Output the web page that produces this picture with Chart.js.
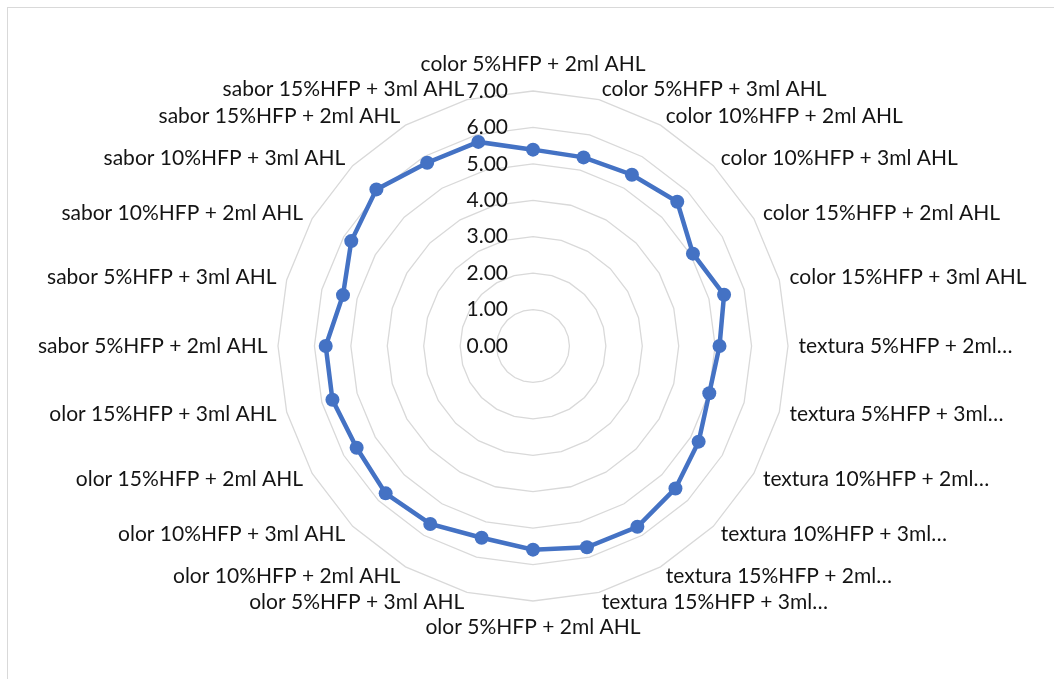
<!DOCTYPE html>
<html><head><meta charset="utf-8">
<script src="https://cdn.jsdelivr.net/npm/chart.js@4.4.0/dist/chart.umd.min.js"></script>
<style>
html,body{margin:0;padding:0;background:#fff;}
#wrap{position:relative;width:1054px;height:679px;overflow:hidden;}
#frame{position:absolute;left:7px;top:7px;width:1100px;height:720px;border:1px solid #d9d9d9;box-sizing:border-box;}
canvas{position:absolute;left:0;top:0;}
</style></head><body>
<div id="wrap"><div id="frame"></div><canvas id="c" width="1054" height="679"></canvas></div>
<script>
const categories = [
  'color 5%HFP + 2ml AHL', 'color 5%HFP + 3ml AHL', 'color 10%HFP + 2ml AHL', 'color 10%HFP + 3ml AHL',
  'color 15%HFP + 2ml AHL', 'color 15%HFP + 3ml AHL', 'textura 5%HFP + 2ml…', 'textura 5%HFP + 3ml…',
  'textura 10%HFP + 2ml…', 'textura 10%HFP + 3ml…', 'textura 15%HFP + 2ml…', 'textura 15%HFP + 3ml…',
  'olor 5%HFP + 2ml AHL', 'olor 5%HFP + 3ml AHL', 'olor 10%HFP + 2ml AHL', 'olor 10%HFP + 3ml AHL',
  'olor 15%HFP + 2ml AHL', 'olor 15%HFP + 3ml AHL', 'sabor 5%HFP + 2ml AHL', 'sabor 5%HFP + 3ml AHL',
  'sabor 10%HFP + 2ml AHL', 'sabor 10%HFP + 3ml AHL', 'sabor 15%HFP + 2ml AHL', 'sabor 15%HFP + 3ml AHL'
];
const values = [
  5.39, 5.36, 5.43, 5.60, 5.07, 5.43, 5.12, 5.01, 5.25, 5.53, 5.73, 5.72,
  5.59, 5.45, 5.64, 5.72, 5.59, 5.70, 5.69, 5.40, 5.76, 6.08, 5.81, 5.80
];
const tickValues = [0, 1, 2, 3, 4, 5, 6, 7];
const tickLabels = ['0.00', '1.00', '2.00', '3.00', '4.00', '5.00', '6.00', '7.00'];

const FONT = '21px Lato';
const TEXT_COLOR = '#141414';

const labelPlugin = {
  id: 'excelLabels',
  afterDraw(chart) {
    const s = chart.scales.r;
    const ctx = chart.ctx;
    ctx.save();
    ctx.font = FONT;
    ctx.fillStyle = TEXT_COLOR;
    // tick labels
    ctx.textAlign = 'right';
    ctx.textBaseline = 'middle';
    tickValues.forEach((v, k) => {
      const y = s.yCenter - s.getDistanceFromCenterForValue(v);
      ctx.fillText(tickLabels[k], s.xCenter - 25, y);
    });
    // point labels
    const n = categories.length;
    categories.forEach((lab, i) => {
      const p = s.getPointPosition(i, s.drawingArea + 10.5);
      const deg = Math.round(i * 360 / n);
      let x = p.x, y = p.y;
      if (deg === 0) { ctx.textAlign = 'center'; y -= 16; }
      else if (deg === 180) { ctx.textAlign = 'center'; y += 16; }
      else if (deg < 180) { ctx.textAlign = 'left'; }
      else { ctx.textAlign = 'right'; }
      ctx.fillText(lab, x, y);
    });
    ctx.restore();
  }
};

new Chart(document.getElementById('c'), {
  type: 'radar',
  data: {
    labels: categories,
    datasets: [{
      data: values,
      borderColor: '#4472C4',
      backgroundColor: '#4472C4',
      pointBackgroundColor: '#4472C4',
      pointBorderColor: '#4472C4',
      borderWidth: 4.5,
      pointRadius: 7,
      pointBorderWidth: 0,
      fill: false,
      tension: 0
    }]
  },
  options: {
    responsive: false,
    animation: false,
    layout: { padding: { top: 91, bottom: 77, left: 200, right: 188 } },
    plugins: { legend: { display: false }, tooltip: { enabled: false } },
    scales: {
      r: {
        min: 0, max: 7,
        ticks: { stepSize: 1, display: false },
        grid: { color: '#d9d9d9', lineWidth: 1.3, circular: false },
        angleLines: { display: false },
        pointLabels: { display: false }
      }
    }
  },
  plugins: [labelPlugin]
});
</script>
</body></html>
